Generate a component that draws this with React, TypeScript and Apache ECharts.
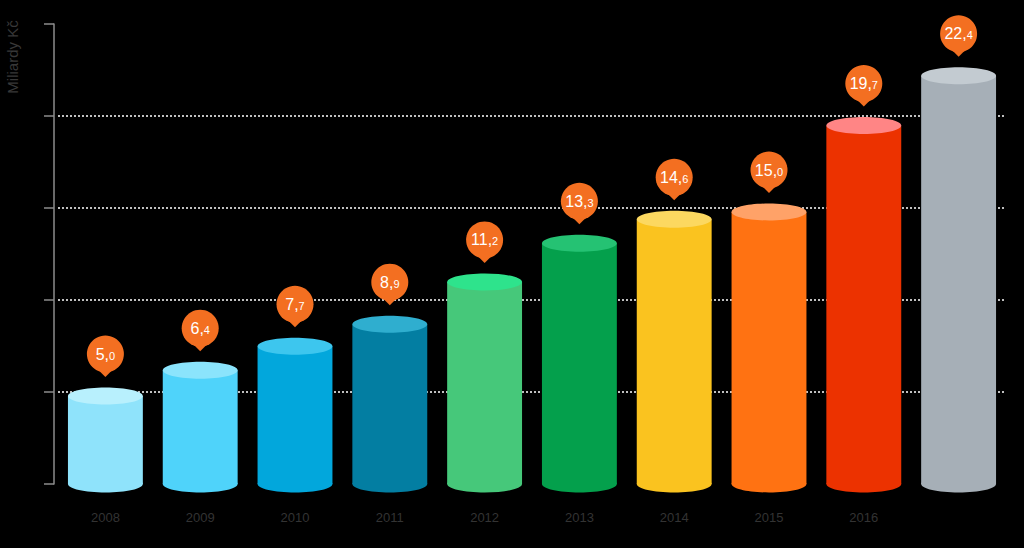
import React, { useEffect, useRef } from "react";
import * as echarts from "echarts";

const categories = ["2008", "2009", "2010", "2011", "2012", "2013", "2014", "2015", "2016", "2017"];
const values = [5.0, 6.4, 7.7, 8.9, 11.2, 13.3, 14.6, 15.0, 19.7, 22.4];
const bodyColors = ["#8FE3FB", "#4FD3FA", "#02A7DC", "#037EA2", "#46C87A", "#04A04C", "#FAC31F", "#FF7212", "#EC3200", "#A6AFB7"];
const topColors = ["#B8F0FD", "#8BE4FC", "#3DC6EE", "#2FAECF", "#2EE38C", "#25C273", "#FCD860", "#FFA268", "#FF8585", "#C3CBD1"];
const yAxisName = "Miliardy Kč";
const yMin = 0;
const yMax = 25;
const yInterval = 5;

export default function App() {
  const ref = useRef<HTMLDivElement>(null);
  useEffect(() => {
    if (!ref.current) return;
    const chart = echarts.init(ref.current, null, { renderer: "svg" });
    const pinColor = "#F36F21";
    const option: any = {
      animation: false,
      backgroundColor: "#000000",
      grid: { left: 58, right: 18, top: 24, bottom: 64 },
      xAxis: {
        type: "category",
        data: categories,
        axisLine: { show: false },
        axisTick: { show: false },
        axisLabel: {
          margin: 27,
          color: "#333333",
          fontSize: 13,
          fontFamily: "Liberation Sans, Arial, sans-serif",
          formatter: (v: string, i: number) => (i === categories.length - 1 ? "" : v),
        },
      },
      yAxis: {
        type: "value",
        min: yMin,
        max: yMax,
        interval: yInterval,
        offset: 4,
        axisLine: { show: true, lineStyle: { color: "#8c8c8c", width: 1.5 } },
        axisTick: { show: true, length: 10, lineStyle: { color: "#8c8c8c", width: 1.5 } },
        axisLabel: { show: false },
        splitLine: {
          show: true,
          showMinLine: false,
          showMaxLine: false,
          lineStyle: { color: "#ffffff", type: [2, 2], width: 1.5 },
        },
      },
      graphic: [
        {
          type: "text",
          x: 12,
          y: 57,
          rotation: Math.PI / 2,
          style: {
            text: yAxisName,
            fill: "#383838",
            font: "15px 'Liberation Sans', Arial, sans-serif",
            align: "center",
            verticalAlign: "middle",
          },
        },
      ],
      series: [
        {
          type: "custom",
          clip: false,
          encode: { x: 0, y: 1 },
          data: categories.map((c, i) => [i, values[i]]),
          renderItem: (params: any, api: any) => {
            const idx = api.value(0);
            const val = api.value(1);
            const top = api.coord([idx, val]);
            const base = api.coord([idx, 0]);
            const band = api.size([1, 0])[0];
            const w = band * 0.79;
            const rx = w / 2;
            const ry = 8.5;
            const cx = top[0];
            const topCy = top[1] + 4;
            const baseCy = base[1];
            const pinCy = top[1] - 38;
            const s = val.toFixed(1).split(".");
            return {
              type: "group",
              children: [
                {
                  type: "ellipse",
                  shape: { cx, cy: baseCy, rx, ry },
                  style: { fill: bodyColors[idx] },
                },
                {
                  type: "rect",
                  shape: { x: cx - rx, y: topCy, width: w, height: baseCy - topCy },
                  style: { fill: bodyColors[idx] },
                },
                {
                  type: "ellipse",
                  shape: { cx, cy: topCy, rx, ry },
                  style: { fill: topColors[idx] },
                },
                {
                  type: "polygon",
                  shape: { points: [[cx - 8, pinCy + 15], [cx + 8, pinCy + 15], [cx, pinCy + 23]] },
                  style: { fill: pinColor },
                },
                {
                  type: "circle",
                  shape: { cx, cy: pinCy, r: 18.5 },
                  style: { fill: pinColor },
                },
                {
                  type: "text",
                  x: cx,
                  y: pinCy,
                  style: {
                    text: "{a|" + s[0] + ",}{b|" + s[1] + "}",
                    align: "center",
                    verticalAlign: "middle",
                    rich: {
                      a: { fill: "#ffffff", fontSize: 16, fontFamily: "Liberation Sans, Arial, sans-serif" },
                      b: { fill: "#ffffff", fontSize: 11, fontFamily: "Liberation Sans, Arial, sans-serif", padding: [3, 0, 0, 0] },
                    },
                  },
                },
              ],
            };
          },
        },
      ],
    };
    chart.setOption(option);
    return () => chart.dispose();
  }, []);
  return (
    <div
      ref={ref}
      style={{ position: "fixed", left: 0, top: 0, width: 1024, height: 548, background: "#000" }}
    />
  );
}
